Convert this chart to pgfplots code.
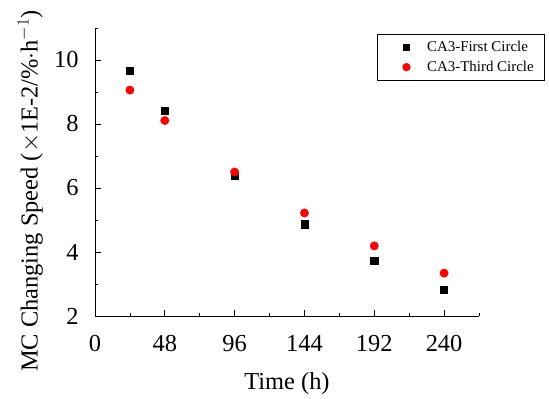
\documentclass[border=0pt]{standalone}
\usepackage{pgfplots}
\pgfplotsset{compat=1.18}
\usepackage{fontspec}
\setmainfont{Liberation Serif}
\pgfplotsset{
  legsq/.style={legend image code/.code={\path (0bp,0bp) (38bp,0bp); \draw[##1, mark size=3.3bp] plot coordinates {(19.7bp,0bp)};}},
  legci/.style={legend image code/.code={\path (0bp,0bp) (38bp,0bp); \draw[##1, mark size=3.8bp] plot coordinates {(19.7bp,0bp)};}},
}
\begin{document}
\begin{tikzpicture}
\path[use as bounding box] (-95bp,-83bp) rectangle (454bp,316bp);
\begin{axis}[
  at={(0,0)}, anchor=south west,
  scale only axis,
  width=384bp, height=288bp,
  xmin=0, xmax=264, ymin=2, ymax=11,
  axis x line*=bottom, axis y line*=left,
  axis line style={-, line width=0.8pt},
  xtick={0,48,96,144,192,240},
  minor xtick={24,72,120,168,216,264},
  ytick={2,4,6,8,10},
  minor ytick={3,5,7,9,11},
  tick align=inside,
  major tick length=6bp, minor tick length=3.5bp,
  tick style={line width=0.8pt, black},
  /pgf/number format/assume math mode=true,
  ticklabel style={font=\fontsize{24.5}{26}\selectfont},
  xticklabel style={yshift=-16bp},
  yticklabel style={xshift=-13bp},
  xlabel={Time (h)},
  ylabel={MC Changing Speed ($\times$1E-2/\%$\cdot$h$^{-1}$)},
  label style={font=\fontsize{24.5}{26}\selectfont},
  xlabel style={yshift=-14bp},
  ylabel style={at={(axis description cs:-0.169,0.434)}, anchor=center},
  clip=false,
  legend style={at={(rel axis cs:1.1719,0.979)}, anchor=north east, draw=black, line width=0.6pt,
    font=\fontsize{15}{17}\selectfont, inner xsep=9bp, inner ysep=5bp, row sep=4bp},
  legend cell align=left,
]
\addplot[only marks, mark=square*, mark size=3.6bp, black, legsq]
  coordinates {(24,9.66) (48,8.42) (96,6.40) (144,4.87) (192,3.72) (240,2.81)};
\addlegendentry{CA3-First Circle}
\addplot[only marks, mark=*, mark size=4.2bp, red, mark options={fill=red, draw=red}, legci]
  coordinates {(24,9.06) (48,8.11) (96,6.50) (144,5.22) (192,4.19) (240,3.34)};
\addlegendentry{CA3-Third Circle}
\end{axis}
\end{tikzpicture}
\end{document}
